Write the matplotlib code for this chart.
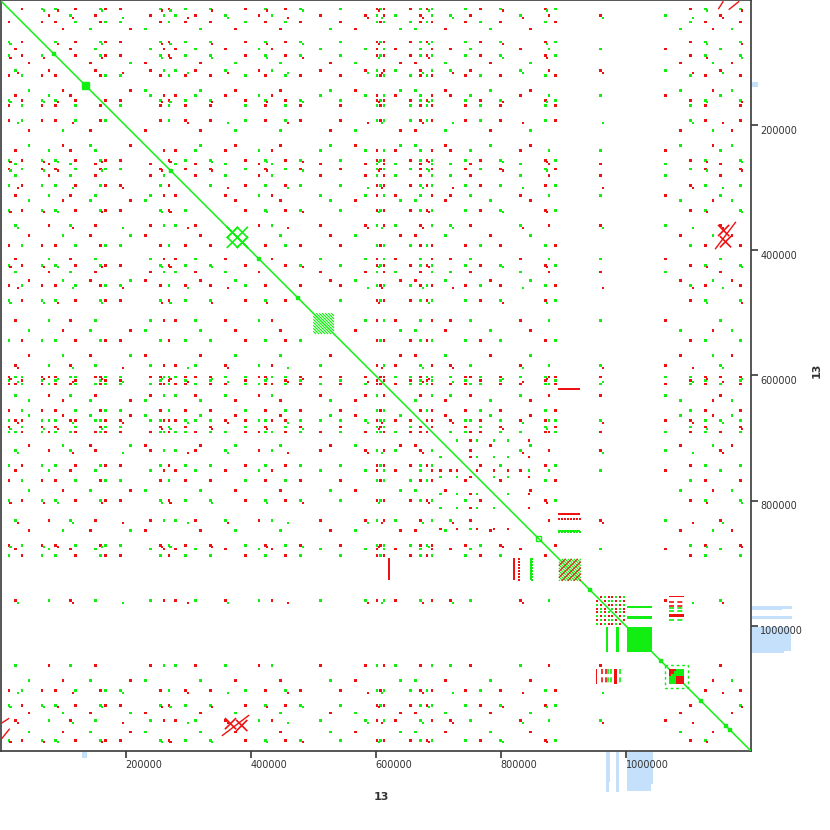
import numpy as np
import matplotlib
matplotlib.use("Agg")
import matplotlib.pyplot as plt
from matplotlib.patches import Rectangle
import matplotlib.transforms as mtransforms

GREEN = '#12ee12'
RED = '#ee1111'
BLUE = '#c4e0fa'
FRAME = '#3a3a3a'

CHROM_LEN = 1200000   # bp, chromosome 13 against itself
TICKS = [200000, 400000, 600000, 800000, 1000000]

# repeat families: element positions in kb and strand of each element
FAM_A_KB = [13, 35, 67, 88, 120, 160, 168, 192, 256, 269, 296, 336, 392, 424, 456, 480,
            544, 602, 608, 614, 656, 672, 682, 691, 744, 768, 800, 872, 888, 1104, 1128, 1184]
FAM_A_STRAND = "+-++-+--" "+-++-+-+" "+-+--+-+" "+-+-+-++"
FAM_B_KB = [24, 77, 112, 152, 240, 261, 280, 312, 360, 413, 435, 512, 584, 602, 614, 632,
            672, 691, 720, 752, 832, 877, 960, 1064, 1152]
FAM_B_STRAND = "-+-++--+" "-+-++-+-" "+--+-++-" "+"
FAM_C_KB = [16, 70, 92, 163, 259, 272, 339, 427, 484, 605, 686, 804, 875, 1131, 1187]
FAM_C_STRAND = "++-+-+--" "+-+-++-"
FAM_D_KB = [28, 116, 196, 300, 364, 460, 588, 611, 676, 724, 836, 964, 1108, 1156]
FAM_D_STRAND = "-+-+-++-" "+-+--+"
FAM_E_KB = [704, 731, 752, 763, 790, 812, 845]
FAM_E_STRAND = "++-+++-"
FAM_F_KB = [955, 961, 967, 973, 979, 985, 991, 997]
FAM_F_STRAND = "+-+--+-+"
FAM_G_KB = [45, 100, 144, 208, 232, 320, 376, 448, 528, 568, 640, 664, 712, 784, 848, 1088,
            1140, 1170]
FAM_G_STRAND = "+-+-++--" "+-++-+-+" "-+"

# tandem arrays near the diagonal: start, end, period (kb), colour, direction
TANDEMS = [(501, 533, 4.8, GREEN, 1),
           (894, 928, 4.8, GREEN, 1),
           (894, 928, 9.6, RED, -1)]

# dotted strips: x0, x1, y, period (kb), colour (mirrored)
STRIPS = [(894, 928, 622, 3.2, RED),
          (894, 928, 821, 3.2, RED),
          (894, 928, 830, 4.8, RED),
          (894, 928, 848, 3.2, GREEN),
          (894, 928, 851, 4.8, GREEN)]

# solid blocks: x0, x1, y0, y1 (kb), colour (mirrored)
BLOCKS = [(1002, 1043, 1002, 1043, GREEN),
          (1002, 1043, 968, 972, GREEN),
          (1002, 1043, 984, 989, GREEN),
          (1069, 1093, 1069, 1093, RED),
          (1081, 1093, 1069, 1080, GREEN),
          (1072, 1080, 1077, 1086, GREEN)]

# bars between the 950-1000 kb cluster and the 1069-1093 kb array
ROWBARS = [(1069, 1093, 953, 955, RED, False),
           (1069, 1093, 961, 963, RED, True),
           (1069, 1093, 967, 969, RED, True),
           (1069, 1093, 971, 973, GREEN, True),
           (1069, 1093, 975, 977, GREEN, True),
           (1069, 1093, 982, 986, RED, False),
           (1069, 1093, 990, 992, GREEN, True)]

# X shaped matches: centre x, centre y, half length (kb), colour (mirrored)
XMARKS = [(371, 371, 8, GREEN), (387, 371, 8, GREEN), (387, 387, 8, GREEN),
          (1157, 368, 8, RED), (1160, 386, 8, RED)]

# single segments (kb), mirrored
SEGMENTS = [((1144, 397), (1176, 355), RED),
            ((1166, 14), (1181, 2), RED),
            ((1149, 13), (1156, 2), RED)]

# squares on the diagonal: centre, size (kb), filled
DIAG_SQ = [(136, 11, True), (85, 4, True), (272, 4, True), (413, 5, True),
           (475, 4, True), (861, 9, False), (942, 4, True), (1056, 4, True),
           (1120, 4, True), (1160, 6, True), (1166, 4, True)]

# coverage track (kb ranges, fraction of track width)
COV_START = [130, 968, 973, 984, 1002, 1040]
COV_END = [139, 973, 975, 989, 1040, 1044]
COV_VAL = [0.15, 1.0, 0.75, 1.0, 0.98, 0.8]

families = [(FAM_A_KB, FAM_A_STRAND), (FAM_B_KB, FAM_B_STRAND), (FAM_C_KB, FAM_C_STRAND),
            (FAM_D_KB, FAM_D_STRAND), (FAM_E_KB, FAM_E_STRAND), (FAM_F_KB, FAM_F_STRAND),
            (FAM_G_KB, FAM_G_STRAND)]

K = 1000.0
fig = plt.figure(figsize=(8.3, 8.3), dpi=100)
ax = fig.add_axes([0.5 / 830, 79.5 / 830, 750 / 830, 750 / 830])
ax.set_xlim(0, CHROM_LEN)
ax.set_ylim(CHROM_LEN, 0)

# main diagonal
ax.plot([0, CHROM_LEN], [0, CHROM_LEN], color=GREEN, lw=1.1, zorder=3)

# repeat family hits: every pair of elements in a family, green same strand / red inverted
dx, dy, dc = [], [], []
for pos, strand in families:
    n = len(pos)
    for i in range(n):
        for j in range(n):
            if i == j:
                continue
            dx.append(pos[i] * K)
            dy.append(pos[j] * K)
            dc.append(GREEN if strand[i] == strand[j] else RED)
ax.scatter(dx, dy, c=dc, marker='s', s=2.3, linewidths=0, zorder=4)

# tandem arrays
for s0, s1, per, col, d in TANDEMS:
    if d > 0:
        for off in np.arange(per, s1 - s0, per):
            for sg in (1, -1):
                x0 = max(s0, s0 - sg * off)
                x1 = min(s1, s1 - sg * off)
                ax.plot([x0 * K, x1 * K], [(x0 + sg * off) * K, (x1 + sg * off) * K],
                        color=col, lw=0.8, zorder=4)
    else:
        for c in np.arange(2 * s0 + per, 2 * s1, per):
            x0 = max(s0, c - s1)
            x1 = min(s1, c - s0)
            ax.plot([x0 * K, x1 * K], [(c - x0) * K, (c - x1) * K],
                    color=col, lw=0.8, zorder=4)

# dotted strips
for x0, x1, y, per, col in STRIPS:
    xs = np.arange(x0, x1, per) * K
    ys = np.full(len(xs), y * K)
    ax.scatter(xs, ys, c=col, marker='s', s=2.0, linewidths=0, zorder=4)
    ax.scatter(ys, xs, c=col, marker='s', s=2.0, linewidths=0, zorder=4)

# blocks
for x0, x1, y0, y1, col in BLOCKS:
    for (a0, a1, b0, b1) in ((x0, x1, y0, y1), (y0, y1, x0, x1)):
        ax.add_patch(Rectangle((a0 * K, b0 * K), (a1 - a0) * K, (b1 - b0) * K,
                               facecolor=col, edgecolor='none', zorder=4))

for x0, x1, y0, y1, col, dashed in ROWBARS:
    for (a0, a1, b0, b1) in ((x0, x1, y0, y1), (y0, y1, x0, x1)):
        if dashed:
            if (a1 - a0) > (b1 - b0):
                ax.plot([a0 * K, a1 * K], [(b0 + b1) / 2 * K] * 2, color=col,
                        lw=1.2, ls=(0, (3, 2)), zorder=4)
            else:
                ax.plot([(a0 + a1) / 2 * K] * 2, [b0 * K, b1 * K], color=col,
                        lw=1.2, ls=(0, (3, 2)), zorder=4)
        else:
            ax.add_patch(Rectangle((a0 * K, b0 * K), (a1 - a0) * K, (b1 - b0) * K,
                                   facecolor=col, edgecolor='none', zorder=4))

# dashed frame round the red array
ax.add_patch(Rectangle((1063 * K, 1063 * K), 37 * K, 37 * K, facecolor='none',
                       edgecolor=GREEN, lw=1.0, ls=(0, (2, 2)), zorder=4))

# X shaped hits
for cx, cy, h, col in XMARKS:
    for (px, py) in ((cx, cy), (cy, cx)):
        ax.plot([(px - h) * K, (px + h) * K], [(py - h) * K, (py + h) * K], color=col, lw=1.2, zorder=5)
        ax.plot([(px - h) * K, (px + h) * K], [(py + h) * K, (py - h) * K], color=col, lw=1.2, zorder=5)

for (a, b), (c, d), col in SEGMENTS:
    ax.plot([a * K, c * K], [b * K, d * K], color=col, lw=1.0, zorder=5)
    ax.plot([b * K, d * K], [a * K, c * K], color=col, lw=1.0, zorder=5)

for c, sz, filled in DIAG_SQ:
    ax.add_patch(Rectangle(((c - sz / 2) * K, (c - sz / 2) * K), sz * K, sz * K,
                           facecolor=GREEN if filled else 'none', edgecolor=GREEN,
                           lw=1.0, zorder=5))

# coverage tracks outside the plot (right and bottom)
tr_right = mtransforms.blended_transform_factory(ax.transAxes, ax.transData)
tr_bottom = mtransforms.blended_transform_factory(ax.transData, ax.transAxes)
tw = 40 / 750
for s0, s1, v in zip(COV_START, COV_END, COV_VAL):
    ax.add_patch(Rectangle((1.0 + 1 / 750, s0 * K), tw * v, (s1 - s0) * K,
                           transform=tr_right, facecolor=BLUE, edgecolor='none',
                           clip_on=False, zorder=0.5))
    ax.add_patch(Rectangle((s0 * K, -1 / 750 - tw * v), (s1 - s0) * K, tw * v,
                           transform=tr_bottom, facecolor=BLUE, edgecolor='none',
                           clip_on=False, zorder=0.5))

# axes styling
for sp in ax.spines.values():
    sp.set_color(FRAME)
    sp.set_linewidth(1.2)
ax.yaxis.tick_right()
ax.set_xticks(TICKS)
ax.set_yticks(TICKS)
ax.set_xticklabels([str(t) for t in TICKS])
ax.set_yticklabels([str(t) for t in TICKS])
ax.tick_params(axis='both', direction='out', length=5, width=1.2, color=FRAME,
               labelsize=7, labelcolor='#333333', pad=2)
for lbl in ax.get_xticklabels():
    lbl.set_ha('left')
for lbl in ax.get_yticklabels():
    lbl.set_va('top')

fig.text(381 / 830, 1 - 797 / 830, '13', ha='center', va='center',
         fontsize=8, fontweight='bold', color='#333333')
fig.text(817 / 830, 1 - 370 / 830, '13', ha='center', va='center', rotation=90,
         fontsize=8, fontweight='bold', color='#333333')

fig.savefig('out.png', dpi=100, facecolor='white')
